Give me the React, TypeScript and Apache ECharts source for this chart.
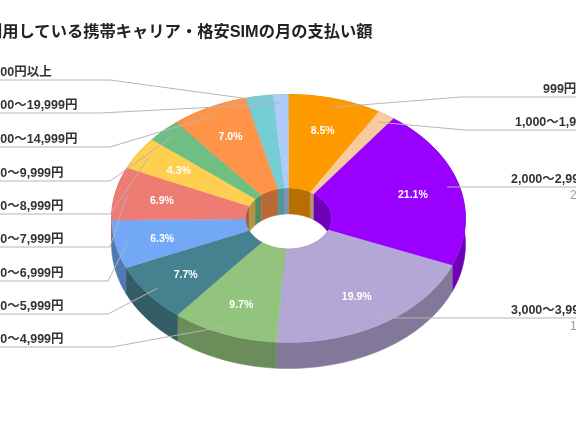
import React, { useEffect, useRef } from "react";
import * as echarts from "echarts";

const titleText = "利用している携帯キャリア・格安SIMの月の支払い額";
const categories = [
  "999円以下", "1,000〜1,999円", "2,000〜2,999円", "3,000〜3,999円",
  "4,000〜4,999円", "5,000〜5,999円", "6,000〜6,999円", "7,000〜7,999円",
  "8,000〜8,999円", "9,000〜9,999円", "10,000〜14,999円", "15,000〜19,999円", "20,000円以上",
];
const shares = [8.5, 1.6, 21.1, 19.9, 9.7, 7.7, 6.3, 6.9, 4.3, 3.1, 7.0, 2.5, 1.4];
const colors = [
  "#FF9900", "#F9CB9C", "#9900FF", "#B4A7D6", "#93C47D", "#45818E", "#72A8F5",
  "#EF7C72", "#FFCF50", "#6FBF85", "#FF9348", "#76CDD5", "#AECBFA",
];

// Layout of the drawing, not data
const CX = 288.5, CY = 218.5, RX = 177, RY = 124, HRX = 43, HRY = 30.5, DEPTH = 26;
const FONT = "'Liberation Sans', 'Noto Sans CJK JP', sans-serif";
// label underline: [side, underline y, elbow x, label x]
const leaderLayout: [number, number, number, number][] = [
  [1, 97, 461, 543], [1, 130, 465, 515], [1, 187, 448, 511], [1, 318, 376, 511],
  [-1, 347, 112, -24], [-1, 314, 108, -24], [-1, 281, 108, -24], [-1, 247, 110, -24],
  [-1, 214, 110, -24], [-1, 181, 110, -24], [-1, 147, 110, -24], [-1, 113, 100, -24], [-1, 80, 110, -24],
];
const subLabels: Record<number, string> = { 2: "21.1%", 3: "19.9%" };
const LABEL_MIN = 4;

const cumulative = shares.map((_, i) => shares.slice(0, i).reduce((a, b) => a + b, 0));
const total = shares.reduce((a, b) => a + b, 0);
const seriesData = shares.map((v, i) => [cumulative[i], v, i]);

const toAngle = (s: number) => (s / total) * Math.PI * 2;
const pt = (a: number, rx: number, ry: number, dy = 0): number[] => [
  CX + rx * Math.sin(a), CY - ry * Math.cos(a) + dy,
];
const arc = (a0: number, a1: number, rx: number, ry: number, dy = 0) => {
  const n = Math.max(2, Math.ceil(((a1 - a0) / Math.PI) * 90));
  const out: number[][] = [];
  for (let k = 0; k <= n; k++) out.push(pt(a0 + ((a1 - a0) * k) / n, rx, ry, dy));
  return out;
};
const shade = (hex: string, f: number) => {
  const n = parseInt(hex.slice(1), 16);
  const c = [(n >> 16) & 255, (n >> 8) & 255, n & 255].map((x) => Math.round(x * f));
  return `rgb(${c[0]},${c[1]},${c[2]})`;
};

const wallItem = (_p: any, api: any) => {
  const a0 = toAngle(api.value(0));
  const a1 = toAngle(api.value(0) + api.value(1));
  const i = api.value(2);
  const fill = shade(colors[i], 0.72);
  return {
    type: "group",
    children: [
      { type: "polygon", shape: { points: [...arc(a0, a1, RX, RY), ...arc(a0, a1, RX, RY, DEPTH).reverse()] }, style: { fill, stroke: fill, lineWidth: 0.5 } },
      { type: "polygon", shape: { points: [...arc(a0, a1, HRX, HRY), ...arc(a0, a1, HRX, HRY, DEPTH).reverse()] }, style: { fill, stroke: fill, lineWidth: 0.5 } },
    ],
  };
};

const topItem = (_p: any, api: any) => {
  const a0 = toAngle(api.value(0));
  const a1 = toAngle(api.value(0) + api.value(1));
  const i = api.value(2);
  return {
    type: "polygon",
    shape: { points: [...arc(a0, a1, RX, RY), ...arc(a0, a1, HRX, HRY).reverse()] },
    style: { fill: colors[i], stroke: colors[i], lineWidth: 0.4 },
  };
};

const annotationItem = (_p: any, api: any) => {
  const v = api.value(1);
  const i = api.value(2);
  const mid = toAngle(api.value(0) + v / 2);
  const [side, ly, ex, lx] = leaderLayout[i];
  const anchor = pt(mid, RX * 0.93, RY * 0.93);
  const children: any[] = [
    {
      type: "polyline",
      shape: { points: [anchor, [ex, ly], [side > 0 ? 576 : 0, ly]] },
      style: { fill: "none", stroke: "#b5b5b5", lineWidth: 1 },
    },
    {
      type: "text",
      style: { text: categories[i], x: lx, y: ly - 8.5, fill: "#333333", font: `bold 12.5px ${FONT}`, align: "left", verticalAlign: "middle" },
    },
  ];
  if (subLabels[i]) {
    children.push({
      type: "text",
      style: { text: subLabels[i], x: 570, y: ly + 8, fill: "#9a9a9a", font: `12px ${FONT}`, align: "left", verticalAlign: "middle" },
    });
  }
  if (v >= LABEL_MIN) {
    const p = pt(mid, RX * 0.73, RY * 0.74);
    children.push({
      type: "text",
      style: { text: `${v.toFixed(1)}%`, x: p[0], y: p[1], fill: "#ffffff", font: `bold 10.5px ${FONT}`, align: "center", verticalAlign: "middle" },
    });
  }
  return { type: "group", children };
};

const customSeries = (renderItem: any, z: number) => ({
  type: "custom",
  coordinateSystem: "none",
  renderItem,
  data: seriesData,
  z,
  silent: true,
  clip: false,
});

export default function App() {
  const ref = useRef<HTMLDivElement>(null);
  useEffect(() => {
    const chart = echarts.init(ref.current!, undefined, { renderer: "svg" });
    chart.setOption({
      animation: false,
      backgroundColor: "#ffffff",
      title: {
        text: titleText, left: -19, top: 18,
        textStyle: { fontFamily: FONT, fontSize: 16.3, fontWeight: "bold", color: "#222222" },
      },
      series: [customSeries(wallItem, 1), customSeries(topItem, 2), customSeries(annotationItem, 3)],
    });
    return () => chart.dispose();
  }, []);
  return <div ref={ref} style={{ position: "fixed", left: 0, top: 0, width: 576, height: 430, filter: "blur(0.5px)" }} />;
}
